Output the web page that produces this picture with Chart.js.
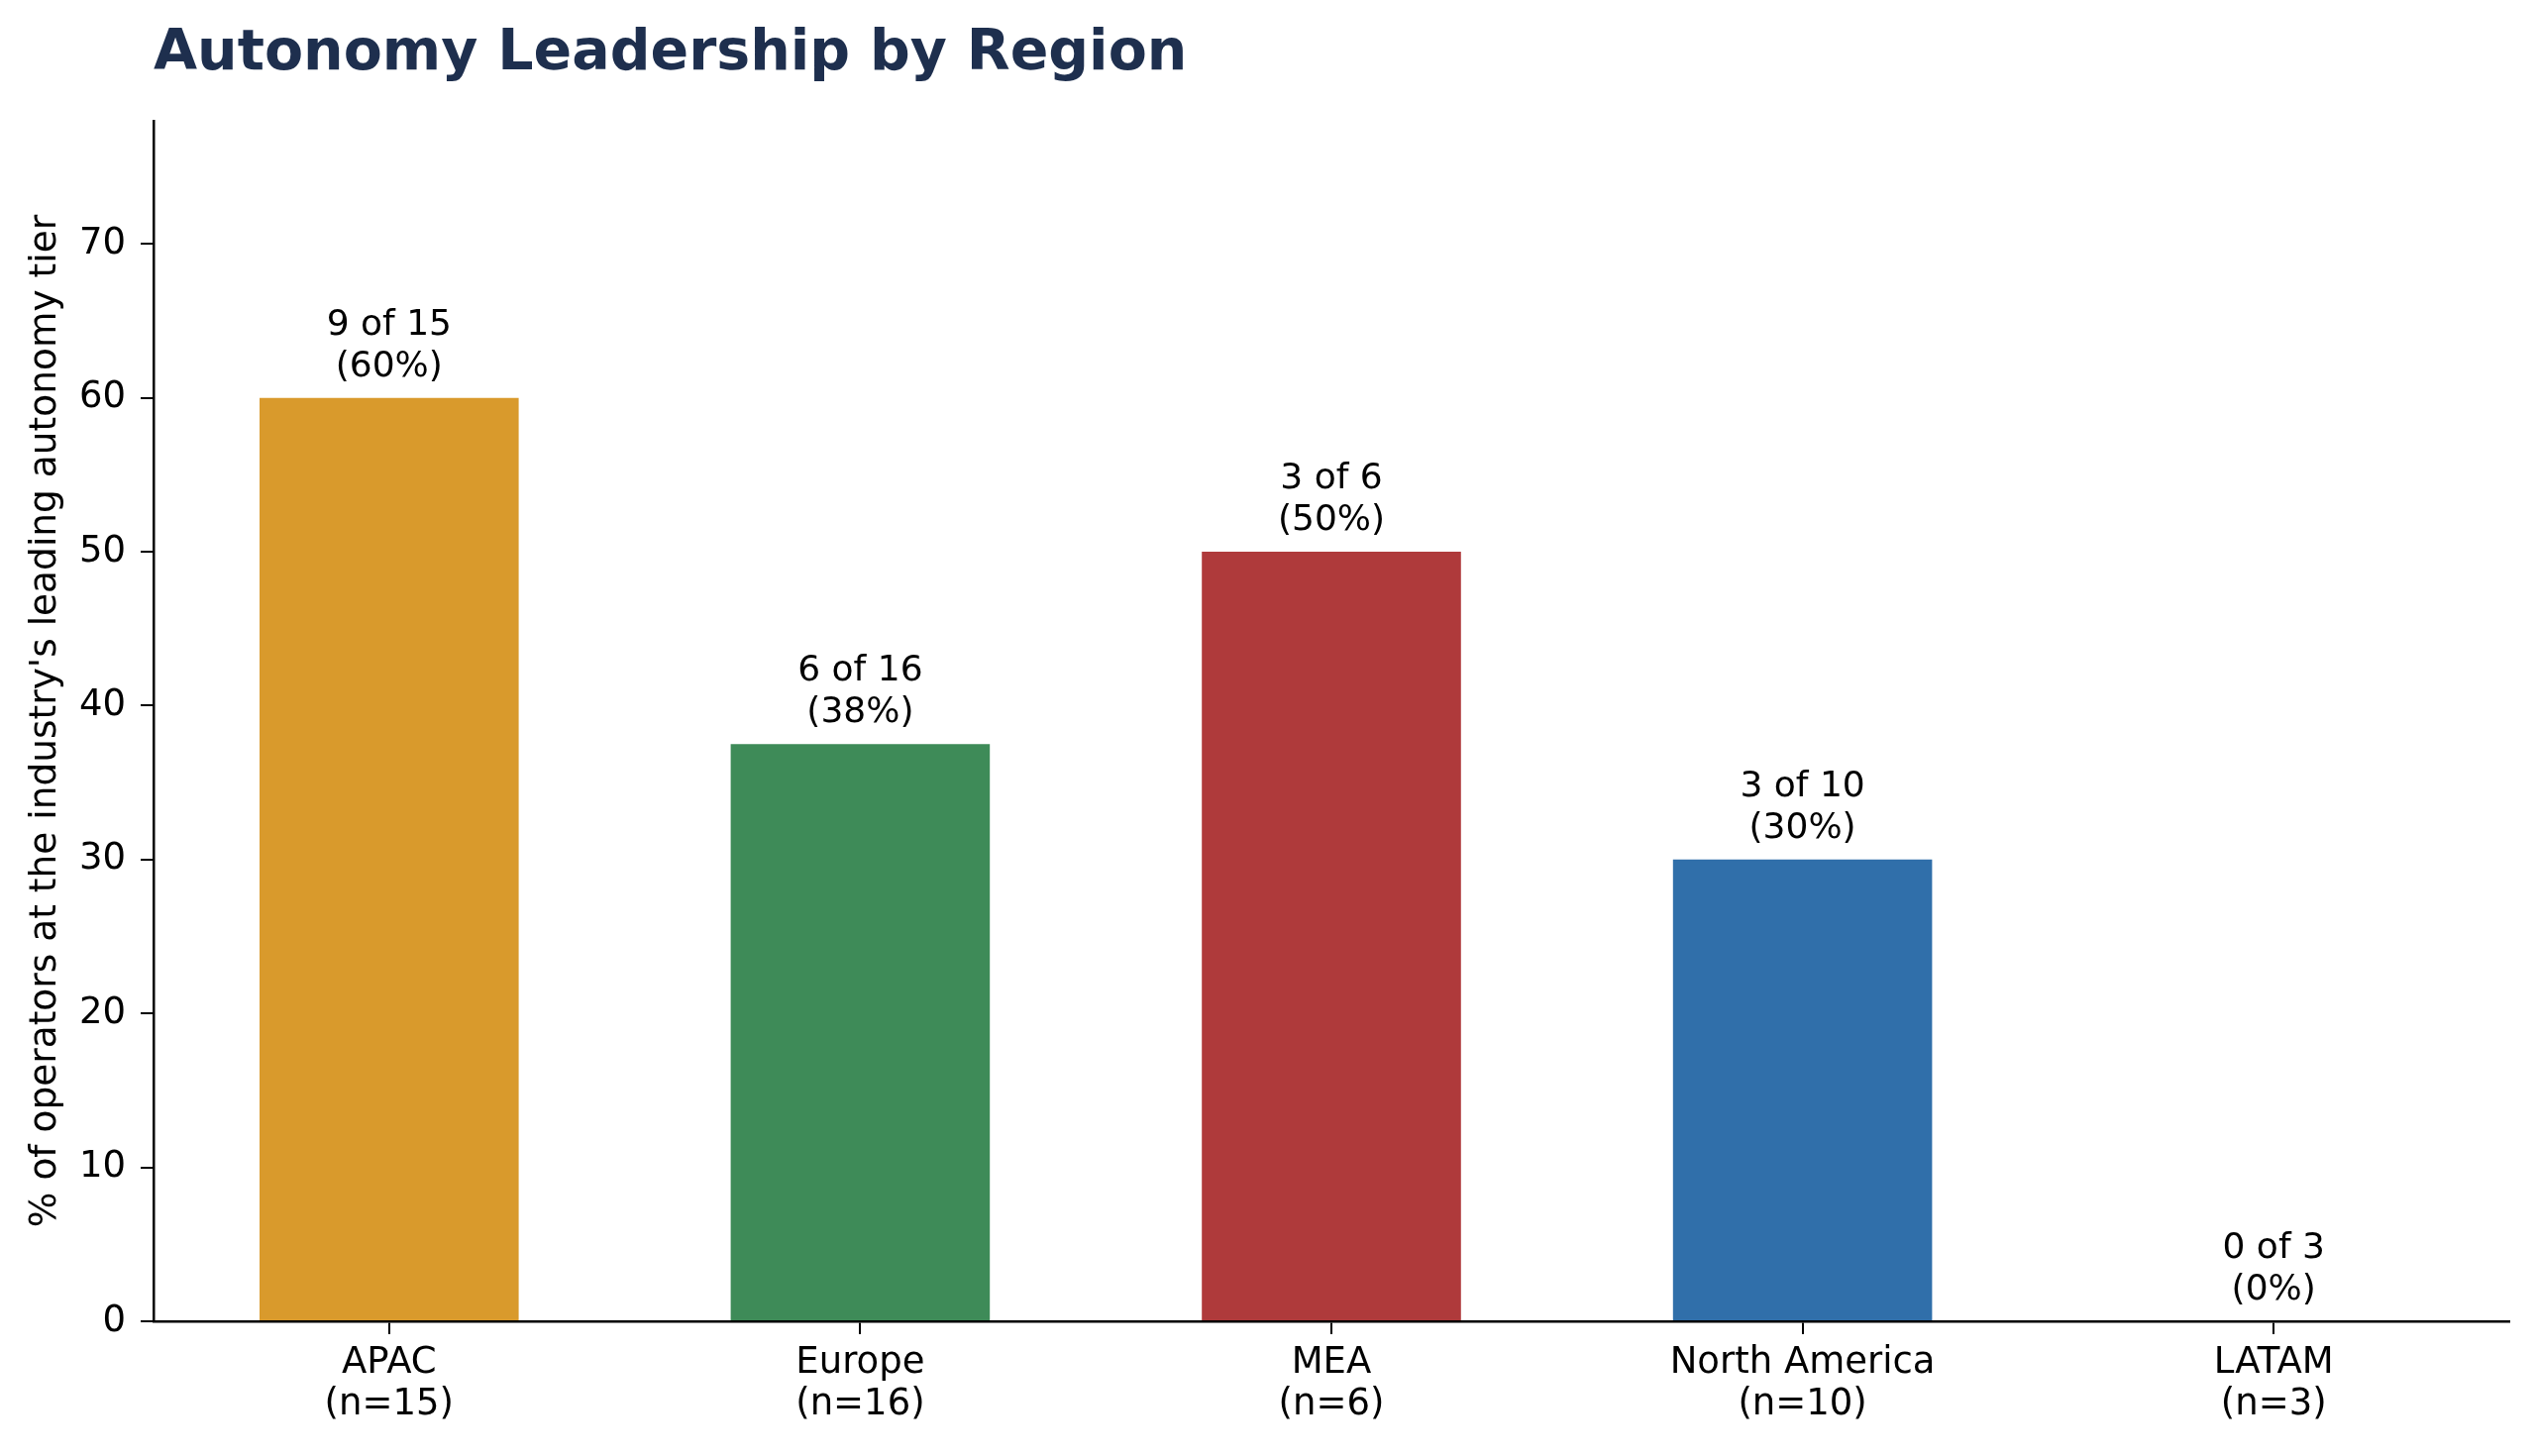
<!DOCTYPE html>
<html>
<head>
<meta charset="utf-8">
<script src="https://cdn.jsdelivr.net/npm/chart.js@4.4.1/dist/chart.umd.min.js"></script>
<style>
  html, body { margin: 0; padding: 0; background: #fff; }
  #wrap { width: 2560px; height: 1470px; }
</style>
</head>
<body>
<div id="wrap"><canvas id="regionChart" width="2560" height="1470"></canvas></div>
<script>
const regions = ['APAC', 'Europe', 'MEA', 'North America', 'LATAM']
const leaders = [9, 6, 3, 3, 0]
const totals = [15, 16, 6, 10, 3]
const shares = [60, 37.5, 50, 30, 0]
const barColors = ['#D99A2C', '#3E8B58', '#AF3A3B', '#306FAA', '#7F7F7F']
const yTicks = [0, 10, 20, 30, 40, 50, 60, 70]

const FONT = "'DejaVu Sans', sans-serif"

const titlePlugin = {
    id: 'leftTitle',
    afterDraw(chart) {
        const ctx = chart.ctx
        ctx.save()
        ctx.font = "bold 57px " + FONT
        ctx.fillStyle = '#1E2F4E'
        ctx.textAlign = 'left'
        ctx.textBaseline = 'alphabetic'
        ctx.fillText('Autonomy Leadership by Region', chart.chartArea.left, 70)
        ctx.restore()
    }
}

const barLabels = {
    id: 'barLabels',
    afterDatasetsDraw(chart) {
        const ctx = chart.ctx
        const meta = chart.getDatasetMeta(0)
        ctx.save()
        ctx.font = "36px " + FONT
        ctx.fillStyle = '#000'
        ctx.textAlign = 'center'
        ctx.textBaseline = 'alphabetic'
        meta.data.forEach((bar, i) => {
            const pct = Math.round(shares[i])
            ctx.fillText(leaders[i] + ' of ' + totals[i], bar.x, bar.y - 64)
            ctx.fillText('(' + pct + '%)', bar.x, bar.y - 22)
        })
        ctx.restore()
    }
}

const ctx = document.getElementById('regionChart')
new Chart(ctx, {
    type: 'bar',
    data: {
        labels: regions.map((r, i) => [r, '(n=' + totals[i] + ')']),
        datasets: [{
            data: shares,
            backgroundColor: barColors,
            borderWidth: 0,
            barPercentage: 0.55,
            categoryPercentage: 1.0
        }]
    },
    options: {
        responsive: false,
        animation: false,
        devicePixelRatio: 1,
        layout: { padding: { top: 122, right: 27, left: 0, bottom: 0 } },
        plugins: {
            legend: { display: false },
            tooltip: { enabled: false },
            title: { display: false }
        },
        scales: {
            x: {
                offset: true,
                grid: { display: true, drawOnChartArea: false, drawTicks: true, tickLength: 13, offset: false, color: '#000', lineWidth: 2 },
                border: { display: true, color: '#000', width: 2.5 },
                ticks: { color: '#000', font: { family: FONT, size: 37, lineHeight: 1.15 }, padding: 8, maxRotation: 0 },
                afterFit(axis) { axis.height = 136 }
            },
            y: {
                min: 0,
                max: 78,
                ticks: { stepSize: 10, color: '#000', font: { family: FONT, size: 37 }, padding: 15 },
                afterBuildTicks(axis) { axis.ticks = yTicks.map(v => ({ value: v })) },
                grid: { display: true, drawOnChartArea: false, drawTicks: true, tickLength: 13, color: '#000', lineWidth: 2 },
                border: { display: true, color: '#000', width: 2.5 },
                title: {
                    display: true,
                    text: "% of operators at the industry's leading autonomy tier",
                    color: '#000',
                    font: { family: FONT, size: 37.5 },
                    padding: { top: 24, bottom: 0 }
                },
                afterFit(axis) { axis.width = 155 }
            }
        }
    },
    plugins: [titlePlugin, barLabels]
})
</script>
</body>
</html>
